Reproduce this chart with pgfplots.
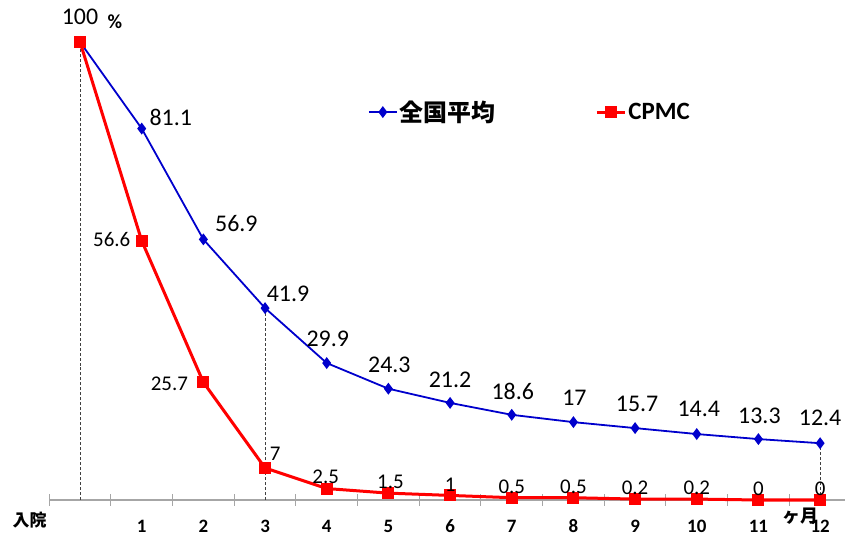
\documentclass[border=0pt]{standalone}
\usepackage{pgfplots}
\pgfplotsset{compat=1.18}
\usepackage{pgfplotstable}
\usepackage{fontspec}
\setmainfont{Carlito}
\newfontfamily\cjk{Noto Sans CJK JP}
\definecolor{bl}{RGB}{0,0,204}
\definecolor{rd}{RGB}{255,0,0}
\definecolor{axgray}{RGB}{166,166,166}

\pgfplotstableread{
x y dx dy lab
0 100 0 25 100
1 81.1 29 11 81.1
2 56.9 33 16 56.9
3 41.9 23 14 41.9
4 29.9 1 24 29.9
5 24.3 1 24 24.3
6 21.2 0 23 21.2
7 18.6 1 23 18.6
8 17 1 24 17
9 15.7 2 24 15.7
10 14.4 2 25 14.4
11 13.3 1 23 13.3
12 12.4 0 25 12.4
}\blueT

\pgfplotstableread{
x y dx dy lab
0 100 0 0 {}
1 56.6 -30 1 56.6
2 25.7 -34 -2 25.7
3 7 10 14 7
4 2.5 -1 12 2.5
5 1.5 2 11 1.5
6 1 0 11 1
7 0.5 0 11 0.5
8 0.5 0 11 0.5
9 0.2 0 11 0.2
10 0.2 0 11 0.2
11 0 0 11 0
12 0 0 11 0
}\redT

\begin{document}
\begin{tikzpicture}
\path[use as bounding box] (0,0) rectangle (845bp,537bp);
\begin{axis}[
  at={(49.2bp,37bp)}, anchor=south west,
  scale only axis, width=796.8bp, height=458bp,
  xmin=-0.5, xmax=12.42, ymin=0, ymax=100,
  clip=false,
  separate axis lines,
  axis x line*=bottom,
  axis y line=none,
  x axis line style={draw=axgray, line width=1.5bp, -},
  xtick={1,2,3,4,5,6,7,8,9,10,11,12},
  xticklabels={1,2,3,4,5,6,7,8,9,10,11,12},
  minor xtick={-0.5,0.5,1.5,2.5,3.5,4.5,5.5,6.5,7.5,8.5,9.5,10.5,11.5},
  major tick length=0pt,
  minor tick length=11bp,
  tick align=center,
  tick style={draw=axgray, line width=1bp},
  xticklabel style={font=\bfseries\fontsize{19}{19}\selectfont, anchor=center, inner sep=0pt, yshift=-26.5bp},
  legend style={draw=none, fill=none, at={(0.396,0.847)}, anchor=west,
    font=\bfseries\fontsize{24}{24}\selectfont, legend columns=2,
    /tikz/every even column/.append style={column sep=98bp}},
  legend image code/.code={\draw[#1, mark repeat=2, mark phase=2] plot coordinates {(0bp,0bp)(14bp,0bp)(28bp,0bp)};},
]
\addplot[forget plot, densely dashed, black!75, line width=0.8bp] coordinates {(0,0)(0,100)};
\addplot[forget plot, densely dashed, black!75, line width=0.8bp] coordinates {(3,0)(3,41.9)};
\addplot[forget plot, densely dashed, black!75, line width=0.8bp] coordinates {(12,0)(12,12.4)};

\addplot[bl, line width=1.8bp, mark=diamond*, mark size=4.5bp,
  nodes near coords, point meta=explicit symbolic,
  visualization depends on={\thisrow{dx} \as \dx},
  visualization depends on={\thisrow{dy} \as \dy},
  every node near coord/.append style={anchor=center, xshift=\dx bp, yshift=\dy bp, black,
    font=\fontsize{24}{24}\selectfont, inner sep=0pt}]
  table[x=x, y=y, meta=lab] {\blueT};
\addlegendentry{\cjk\bfseries 全国平均}

\addplot[rd, line width=3bp, mark=square*, mark size=4.5bp,
  nodes near coords, point meta=explicit symbolic,
  visualization depends on={\thisrow{dx} \as \dx},
  visualization depends on={\thisrow{dy} \as \dy},
  every node near coord/.append style={anchor=center, xshift=\dx bp, yshift=\dy bp, black,
    font=\fontsize{21}{21}\selectfont, inner sep=0pt}]
  table[x=x, y=y, meta=lab] {\redT};
\addlegendentry{\fontsize{25}{25}\selectfont CPMC}
\end{axis}
\node[font=\cjk\bfseries\fontsize{17}{17}\selectfont] at (29.5bp,17bp) {入院};
\node[font=\cjk\bfseries\fontsize{18}{18}\selectfont, inner sep=0pt] at (800.5bp,21bp) {ヶ月};
\node[font=\bfseries\fontsize{20}{20}\selectfont] at (115bp,515bp) {\%};
\end{tikzpicture}
\end{document}
